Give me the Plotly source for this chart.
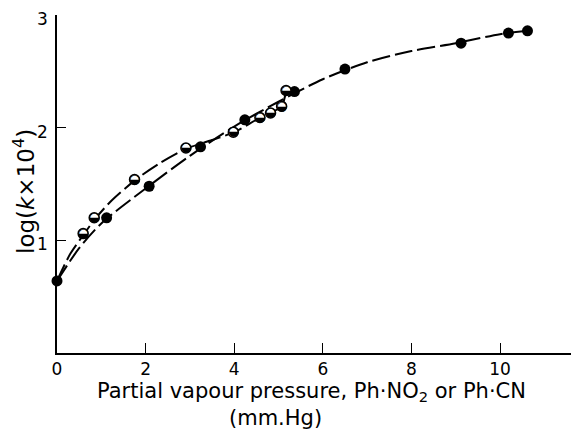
import plotly.graph_objects as go

# Data points
filled_x = [0.0, 1.12, 2.08, 3.24, 4.24, 5.36, 6.50, 9.12, 10.19, 10.62]
filled_y = [0.64, 1.20, 1.48, 1.83, 2.07, 2.32, 2.52, 2.75, 2.84, 2.86]
half_x = [0.59, 0.84, 1.75, 2.91, 3.98, 4.58, 4.82, 5.07, 5.17]
half_y = [1.06, 1.20, 1.54, 1.82, 1.96, 2.09, 2.13, 2.19, 2.33]

# Drawn curves
curve_filled_x = [0, 0.5, 1, 2, 3, 4, 5, 6, 7, 8, 9, 10, 10.62]
curve_filled_y = [0.64, 0.93, 1.15, 1.46, 1.75, 2.01, 2.23, 2.43, 2.58, 2.68, 2.75, 2.83, 2.86]
curve_half_x = [0, 0.3, 0.6, 0.84, 1.2, 1.75, 2.3, 2.9, 3.5, 4.0, 4.5, 4.8, 5.07, 5.17]
curve_half_y = [0.64, 0.88, 1.05, 1.18, 1.34, 1.53, 1.68, 1.81, 1.89, 1.96, 2.07, 2.13, 2.19, 2.33]

x_ticks = [0, 2, 4, 6, 8, 10]
y_ticks = [1, 2, 3]

FONT = "DejaVu Sans"
dash = "18px,5px"

# page body has an 8px margin: figure placed at (8, 8)
W, H = 571, 422
L, T = 49, 7
PW, PH = 521, 338
R, B = W - L - PW, H - T - PH


def px(xp):
    return (xp - 8 - L) / PW


def py(yp):
    return (H - B - (yp - 8)) / PH


fig = go.Figure()
fig.add_trace(go.Scatter(x=curve_filled_x, y=curve_filled_y, mode="lines",
                         line=dict(color="black", width=2, dash=dash, shape="spline", smoothing=0.8),
                         hoverinfo="skip", showlegend=False))
fig.add_trace(go.Scatter(x=curve_half_x, y=curve_half_y, mode="lines",
                         line=dict(color="black", width=2, dash=dash, shape="spline", smoothing=0.8),
                         hoverinfo="skip", showlegend=False))
fig.add_trace(go.Scatter(x=filled_x, y=filled_y, mode="markers",
                         marker=dict(symbol="circle", size=11, color="black"),
                         showlegend=False, cliponaxis=False))
fig.add_trace(go.Scatter(x=half_x, y=half_y, mode="markers",
                         marker=dict(symbol="circle", size=10, color="white",
                                     line=dict(color="black", width=1.5)),
                         showlegend=False))
fig.add_trace(go.Scatter(x=half_x, y=half_y, mode="text", text=["◒"] * len(half_x),
                         textposition="middle center",
                         textfont=dict(family=FONT, size=13, color="black"),
                         showlegend=False))

fig.update_layout(
    width=W, height=H,
    margin=dict(l=L, r=R, t=T, b=B),
    paper_bgcolor="white", plot_bgcolor="white",
    font=dict(family=FONT, size=17, color="black"),
    xaxis=dict(range=[0, 11.76], tickvals=x_ticks, ticktext=[str(v) for v in x_ticks],
               ticks="inside", ticklen=10, tickwidth=1.3, tickcolor="black",
               showline=True, linecolor="black", linewidth=1.5, automargin=False,
               showgrid=False, zeroline=False, ticklabelstandoff=0,
               ticklabeloverflow="allow", tickfont=dict(size=17)),
    yaxis=dict(range=[0, 3], tickvals=y_ticks, ticktext=[str(v) for v in y_ticks],
               ticks="inside", ticklen=9, tickwidth=1.3, tickcolor="black",
               showline=True, linecolor="black", linewidth=1.5, automargin=False,
               showgrid=False, zeroline=False, ticklabelstandoff=4, ticklabelshift=4,
               ticklabeloverflow="allow", tickfont=dict(size=17)),
    annotations=[
        dict(text="Partial vapour pressure, Ph·NO<sub>2</sub> or Ph·CN", xref="paper", yref="paper",
             x=px(311), y=py(392), showarrow=False, xanchor="center", yanchor="middle",
             font=dict(size=21)),
        dict(text="(mm.Hg)", xref="paper", yref="paper",
             x=px(275), y=py(418), showarrow=False, xanchor="center", yanchor="middle",
             font=dict(size=21)),
        dict(text="log(<i>k</i>×10<sup>4</sup>)", xref="paper", yref="paper",
             x=px(24), y=py(192), showarrow=False, xanchor="center", yanchor="middle",
             textangle=-90, font=dict(size=23)),
    ],
)
fig.write_html("out.html")
